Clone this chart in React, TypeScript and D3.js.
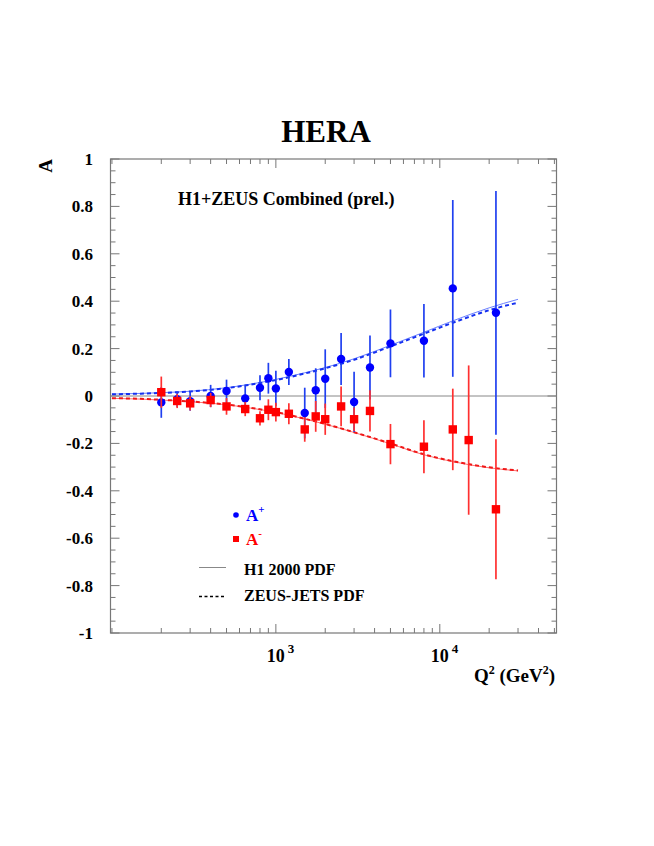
import React, { useEffect, useRef } from 'react';
import * as d3 from 'd3';

// A+ (e+p) points
const plusQ2 = [200, 250, 300, 400, 500, 650, 800, 900, 1000, 1200, 1500, 1750, 2000, 2500, 3000, 3750, 5000, 8000, 12000, 22000];
const plusA = [-0.027, -0.014, -0.022, 0.0, 0.021, -0.01, 0.035, 0.075, 0.032, 0.101, -0.072, 0.024, 0.073, 0.156, -0.025, 0.12, 0.222, 0.233, 0.454, 0.351];
const plusErr = [0.065, 0.032, 0.04, 0.047, 0.048, 0.055, 0.053, 0.065, 0.075, 0.055, 0.107, 0.093, 0.124, 0.11, 0.127, 0.135, 0.143, 0.155, 0.373, 0.514];

// A- (e-p) points
const minusQ2 = [200, 250, 300, 400, 500, 650, 800, 900, 1000, 1200, 1500, 1750, 2000, 2500, 3000, 3750, 5000, 8000, 12000, 15000, 22000];
const minusA = [0.016, -0.021, -0.031, -0.017, -0.044, -0.055, -0.094, -0.058, -0.068, -0.075, -0.141, -0.086, -0.098, -0.044, -0.098, -0.063, -0.203, -0.214, -0.141, -0.186, -0.478];
const minusErr = [0.066, 0.03, 0.03, 0.03, 0.035, 0.03, 0.03, 0.044, 0.04, 0.044, 0.052, 0.065, 0.066, 0.084, 0.05, 0.087, 0.085, 0.112, 0.172, 0.315, 0.295];

// PDF predictions
const curveQ2 = [100, 150, 200, 300, 500, 700, 1000, 1500, 2000, 3000, 5000, 8000, 12000, 20000, 30000];
const h1Plus = [0.008, 0.011, 0.014, 0.02, 0.035, 0.05, 0.07, 0.098, 0.12, 0.157, 0.214, 0.269, 0.317, 0.372, 0.408];
const zeusPlus = [0.007, 0.01, 0.013, 0.019, 0.033, 0.048, 0.067, 0.095, 0.117, 0.153, 0.209, 0.263, 0.309, 0.362, 0.394];
const h1Minus = [-0.01, -0.013, -0.017, -0.024, -0.037, -0.051, -0.069, -0.097, -0.119, -0.154, -0.202, -0.248, -0.277, -0.303, -0.316];
const zeusMinus = [-0.009, -0.012, -0.016, -0.023, -0.036, -0.05, -0.068, -0.096, -0.118, -0.153, -0.2, -0.246, -0.275, -0.301, -0.314];

const yTicks = [-1, -0.8, -0.6, -0.4, -0.2, 0, 0.2, 0.4, 0.6, 0.8, 1];
const xMajor = [1000, 10000];
const xMajorExp = ['3', '4'];

const FONT = '"Liberation Serif", "Times New Roman", serif';
const BLUE = '#0000ff';
const RED = '#ff0000';

const App = () => {
  const chartRef = useRef(null);

  useEffect(() => {
    const root = d3.select(chartRef.current);
    root.selectAll('*').remove();

    const svg = root
      .append('svg')
      .attr('width', 654)
      .attr('height', 846)
      .style('display', 'block')
      .style('background', '#fff')
      .attr('font-family', FONT)
      .attr('font-weight', 'bold');

    const left = 110.5, right = 556.5, top = 159, bottom = 633;

    const x = d3.scaleLog().domain([98, 51500]).range([left, right]);
    const y = d3.scaleLinear().domain([-1, 1]).range([bottom, top]);

    const axisColor = '#777';

    // frame
    svg.append('rect')
      .attr('x', left).attr('y', top)
      .attr('width', right - left).attr('height', bottom - top)
      .attr('fill', 'none').attr('stroke', axisColor).attr('stroke-width', 1.2);

    // y ticks (left and right, inward)
    const yMinor = d3.range(-1, 1.0001, 0.05);
    yMinor.forEach((v) => {
      const isMajor = Math.abs(Math.round(v * 10) / 10 - v) < 1e-6 && Math.round(v * 10) % 2 === 0;
      const len = isMajor ? 9 : 5;
      const yy = y(v);
      svg.append('line').attr('x1', left).attr('x2', left + len).attr('y1', yy).attr('y2', yy)
        .attr('stroke', axisColor).attr('stroke-width', 1);
      svg.append('line').attr('x1', right).attr('x2', right - len).attr('y1', yy).attr('y2', yy)
        .attr('stroke', axisColor).attr('stroke-width', 1);
    });

    // x ticks (bottom and top, inward)
    const xTicks = [];
    [100, 1000, 10000].forEach((dec) => {
      for (let k = 1; k <= 9; k++) {
        const v = dec * k;
        if (v > 98 && v < 51500) xTicks.push(v);
      }
    });
    xTicks.forEach((v) => {
      const isMajor = xMajor.includes(v);
      const len = isMajor ? 9 : 5;
      const xx = x(v);
      svg.append('line').attr('x1', xx).attr('x2', xx).attr('y1', bottom).attr('y2', bottom - len)
        .attr('stroke', axisColor).attr('stroke-width', 1);
      svg.append('line').attr('x1', xx).attr('x2', xx).attr('y1', top).attr('y2', top + len)
        .attr('stroke', axisColor).attr('stroke-width', 1);
    });

    // y tick labels
    yTicks.forEach((v) => {
      svg.append('text')
        .attr('x', 93).attr('y', y(v) + 6)
        .attr('text-anchor', 'end')
        .attr('font-size', 17)
        .text(String(Math.round(v * 10) / 10));
    });

    // x tick labels 10^n
    xMajor.forEach((v, i) => {
      const t = svg.append('text')
        .attr('x', x(v) - 9).attr('y', 662)
        .attr('font-size', 18);
      t.append('tspan').text('10');
      t.append('tspan').attr('dx', 3).attr('dy', -9).attr('font-size', 13).text(xMajorExp[i]);
    });

    // axis titles
    const xt = svg.append('text')
      .attr('x', 555).attr('y', 682)
      .attr('text-anchor', 'end')
      .attr('font-size', 19);
    xt.append('tspan').text('Q');
    xt.append('tspan').attr('dy', -8).attr('font-size', 12).text('2');
    xt.append('tspan').attr('dy', 8).text(' (GeV');
    xt.append('tspan').attr('dy', -8).attr('font-size', 12).text('2');
    xt.append('tspan').attr('dy', 8).text(')');

    svg.append('text')
      .attr('transform', 'translate(52, 166) rotate(-90)')
      .attr('text-anchor', 'middle')
      .attr('font-size', 19)
      .text('A');

    // title
    svg.append('text')
      .attr('x', 326).attr('y', 142)
      .attr('text-anchor', 'middle')
      .attr('font-size', 31)
      .text('HERA');

    svg.append('text')
      .attr('x', 178).attr('y', 205)
      .attr('font-size', 18)
      .text('H1+ZEUS Combined (prel.)');

    // zero line
    svg.append('line')
      .attr('x1', left).attr('x2', right).attr('y1', y(0)).attr('y2', y(0))
      .attr('stroke', '#888').attr('stroke-width', 1);

    // curves
    const line = d3.line()
      .x((d) => x(d[0]))
      .y((d) => y(d[1]))
      .curve(d3.curveMonotoneX);

    const drawCurve = (vals, color, dashed) => {
      svg.append('path')
        .datum(curveQ2.map((q, i) => [q, vals[i]]))
        .attr('d', line)
        .attr('fill', 'none')
        .attr('stroke', color)
        .attr('stroke-width', dashed ? 2 : 1)
        .attr('stroke-dasharray', dashed ? '4,3' : null);
    };
    drawCurve(h1Plus, '#6a80ff', false);
    drawCurve(h1Minus, '#ff7070', false);
    drawCurve(zeusPlus, '#1530f0', true);
    drawCurve(zeusMinus, '#f01818', true);

    // A+ points
    const plus = svg.append('g');
    plusQ2.forEach((q, i) => {
      plus.append('line')
        .attr('x1', x(q)).attr('x2', x(q))
        .attr('y1', y(plusA[i] + plusErr[i])).attr('y2', y(plusA[i] - plusErr[i]))
        .attr('stroke', '#2040f0').attr('stroke-width', 1.7);
    });
    plusQ2.forEach((q, i) => {
      plus.append('circle')
        .attr('cx', x(q)).attr('cy', y(plusA[i]))
        .attr('r', 4.2).attr('fill', BLUE);
    });

    // A- points
    const minus = svg.append('g');
    minusQ2.forEach((q, i) => {
      minus.append('line')
        .attr('x1', x(q)).attr('x2', x(q))
        .attr('y1', y(minusA[i] + minusErr[i])).attr('y2', y(minusA[i] - minusErr[i]))
        .attr('stroke', '#ff3030').attr('stroke-width', 1.7);
    });
    minusQ2.forEach((q, i) => {
      minus.append('rect')
        .attr('x', x(q) - 4.2).attr('y', y(minusA[i]) - 4.2)
        .attr('width', 8.4).attr('height', 8.4)
        .attr('fill', RED);
    });

    // legend
    svg.append('circle').attr('cx', 236).attr('cy', 515).attr('r', 2.8).attr('fill', BLUE);
    const lp = svg.append('text').attr('x', 246).attr('y', 521).attr('font-size', 17).attr('fill', BLUE);
    lp.append('tspan').text('A');
    lp.append('tspan').attr('dy', -8).attr('font-size', 11).text('+');

    svg.append('rect').attr('x', 233).attr('y', 536).attr('width', 6).attr('height', 6).attr('fill', RED);
    const lm = svg.append('text').attr('x', 246).attr('y', 545).attr('font-size', 17).attr('fill', RED);
    lm.append('tspan').text('A');
    lm.append('tspan').attr('dy', -8).attr('font-size', 11).text('-');

    svg.append('line').attr('x1', 199).attr('x2', 226).attr('y1', 567.5).attr('y2', 567.5)
      .attr('stroke', '#888').attr('stroke-width', 1);
    svg.append('text').attr('x', 244).attr('y', 575).attr('font-size', 16).text('H1 2000 PDF');

    svg.append('line').attr('x1', 199).attr('x2', 226).attr('y1', 596.5).attr('y2', 596.5)
      .attr('stroke', '#000').attr('stroke-width', 1.5).attr('stroke-dasharray', '3,2.5');
    svg.append('text').attr('x', 244).attr('y', 601).attr('font-size', 16).text('ZEUS-JETS PDF');
  }, []);

  return <div ref={chartRef} style={{ position: 'absolute', left: 0, top: 0 }} />;
};

export default App;
